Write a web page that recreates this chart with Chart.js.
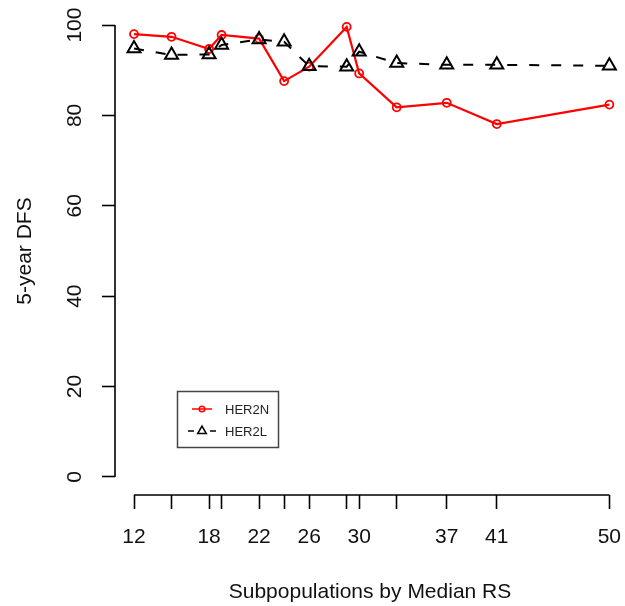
<!DOCTYPE html>
<html>
<head>
<meta charset="utf-8">
<script src="https://cdn.jsdelivr.net/npm/chart.js@4.4.1/dist/chart.umd.min.js"></script>
<style>
  html, body { margin: 0; padding: 0; background: #ffffff; }
  #wrap { width: 625px; height: 606px; position: relative; }
</style>
</head>
<body>
<div id="wrap"><canvas id="c" width="625" height="606"></canvas></div>
<script>
// ---- data ----
const X_VALUES   = [12, 15, 18, 19, 22, 24, 26, 29, 30, 33, 37, 41, 50];
const X_LABELED  = [12, 18, 22, 26, 30, 37, 41, 50];
const Y_TICKS    = [0, 20, 40, 60, 80, 100];
const HER2N      = [98.0, 97.4, 94.7, 97.8, 97.0, 87.6, 90.8, 99.6, 89.3, 81.8, 82.8, 78.1, 82.4];
const HER2L      = [94.8, 93.4, 93.5, 95.6, 96.8, 96.3, 90.9, 90.8, 94.1, 91.6, 91.2, 91.2, 91.0];
const SERIES_NAMES = ['HER2N', 'HER2L'];
const X_TITLE = 'Subpopulations by Median RS';
const Y_TITLE = '5-year DFS';

const FONT = '"Liberation Sans", Arial, Helvetica, sans-serif';

const toPoints = (ys) => X_VALUES.map((x, i) => ({ x: x, y: ys[i] }));

const rAxesPlugin = {
  id: 'rAxes',
  afterDraw(chart) {
    const ctx = chart.ctx;
    const xs = chart.scales.x, ys = chart.scales.y;
    const ca = chart.chartArea;
    ctx.save();
    // R-style axis lines spanning first to last tick
    ctx.strokeStyle = '#000';
    ctx.lineWidth = 1.6;
    ctx.beginPath();
    ctx.moveTo(xs.getPixelForValue(X_VALUES[0]), ca.bottom);
    ctx.lineTo(xs.getPixelForValue(X_VALUES[X_VALUES.length - 1]), ca.bottom);
    ctx.moveTo(ca.left, ys.getPixelForValue(Y_TICKS[0]));
    ctx.lineTo(ca.left, ys.getPixelForValue(Y_TICKS[Y_TICKS.length - 1]));
    ctx.stroke();

    // axis titles
    ctx.fillStyle = '#111';
    ctx.font = '21px ' + FONT;
    ctx.textAlign = 'center';
    ctx.textBaseline = 'alphabetic';
    ctx.fillText(X_TITLE, (ca.left + ca.right) / 2, 598);
    ctx.save();
    ctx.translate(31, (ca.top + ca.bottom) / 2);
    ctx.rotate(-Math.PI / 2);
    ctx.fillText(Y_TITLE, 0, 0);
    ctx.restore();

    // legend box
    const ds = chart.data.datasets;
    ctx.strokeStyle = '#444';
    ctx.lineWidth = 1.5;
    ctx.setLineDash([]);
    ctx.strokeRect(177.5, 391.5, 101, 56);
    const rows = [409, 431];
    ds.forEach((d, i) => {
      const y = rows[i];
      ctx.strokeStyle = d.borderColor;
      ctx.lineWidth = 1.5;
      ctx.beginPath();
      if (i === 0) {
        ctx.moveTo(192, y); ctx.lineTo(212, y);
        ctx.stroke();
        ctx.beginPath();
        ctx.arc(202, y, 2.8, 0, Math.PI * 2);
        ctx.stroke();
      } else {
        ctx.moveTo(188, y); ctx.lineTo(194, y);
        ctx.moveTo(210, y); ctx.lineTo(216, y);
        ctx.stroke();
        const r = 5;
        ctx.beginPath();
        ctx.moveTo(202, y - r);
        ctx.lineTo(202 + r * 0.866, y + r * 0.5);
        ctx.lineTo(202 - r * 0.866, y + r * 0.5);
        ctx.closePath();
        ctx.stroke();
      }
      ctx.fillStyle = '#222';
      ctx.font = '13px ' + FONT;
      ctx.textAlign = 'left';
      ctx.textBaseline = 'middle';
      ctx.fillText(d.label, 225, y + 1);
    });
    ctx.restore();
  }
};

new Chart(document.getElementById('c'), {
  type: 'line',
  data: {
    datasets: [
      {
        label: SERIES_NAMES[0],
        data: toPoints(HER2N),
        borderColor: '#ff0000',
        borderWidth: 2.2,
        pointStyle: 'circle',
        pointRadius: 4,
        pointBorderWidth: 1.8,
        pointBackgroundColor: 'rgba(0,0,0,0)',
        pointBorderColor: '#ff0000',
        tension: 0,
        order: 1
      },
      {
        label: SERIES_NAMES[1],
        data: toPoints(HER2L),
        borderColor: '#000000',
        borderWidth: 2,
        borderDash: [10, 12],
        pointStyle: 'triangle',
        pointRadius: 7.5,
        pointBorderWidth: 2,
        pointBackgroundColor: 'rgba(0,0,0,0)',
        pointBorderColor: '#000000',
        tension: 0,
        order: 0
      }
    ]
  },
  options: {
    responsive: false,
    animation: false,
    events: [],
    layout: { autoPadding: false, padding: { top: 7, left: 0, right: 0, bottom: 0 } },
    plugins: { legend: { display: false }, tooltip: { enabled: false } },
    scales: {
      x: {
        type: 'linear',
        min: 10.48,
        max: 51.25,
        border: { display: false },
        grid: { display: true, drawOnChartArea: false, drawTicks: true, tickLength: 14, tickColor: '#000', tickWidth: 1.6 },
        afterBuildTicks: (s) => { s.ticks = X_VALUES.map(v => ({ value: v })); },
        afterFit: (s) => { s.height = 111; s.paddingLeft = 0; s.paddingRight = 0; },
        ticks: {
          autoSkip: false, maxRotation: 0, minRotation: 0, padding: 16,
          color: '#111', font: { family: FONT, size: 21 },
          callback: (v) => X_LABELED.includes(v) ? String(v) : ''
        }
      },
      y: {
        type: 'linear',
        min: -4,
        max: 104,
        border: { display: false },
        grid: { display: true, drawOnChartArea: false, drawTicks: true, tickLength: 13, tickColor: '#000', tickWidth: 1.6 },
        afterBuildTicks: (s) => { s.ticks = Y_TICKS.map(v => ({ value: v })); },
        afterFit: (s) => { s.width = 115; s.paddingTop = 0; s.paddingBottom = 0; },
        ticks: {
          autoSkip: false, minRotation: 90, maxRotation: 90, crossAlign: 'center', padding: 9,
          color: '#111', font: { family: FONT, size: 21 },
          callback: (v) => String(v)
        }
      }
    }
  },
  plugins: [rAxesPlugin]
});
</script>
</body>
</html>
